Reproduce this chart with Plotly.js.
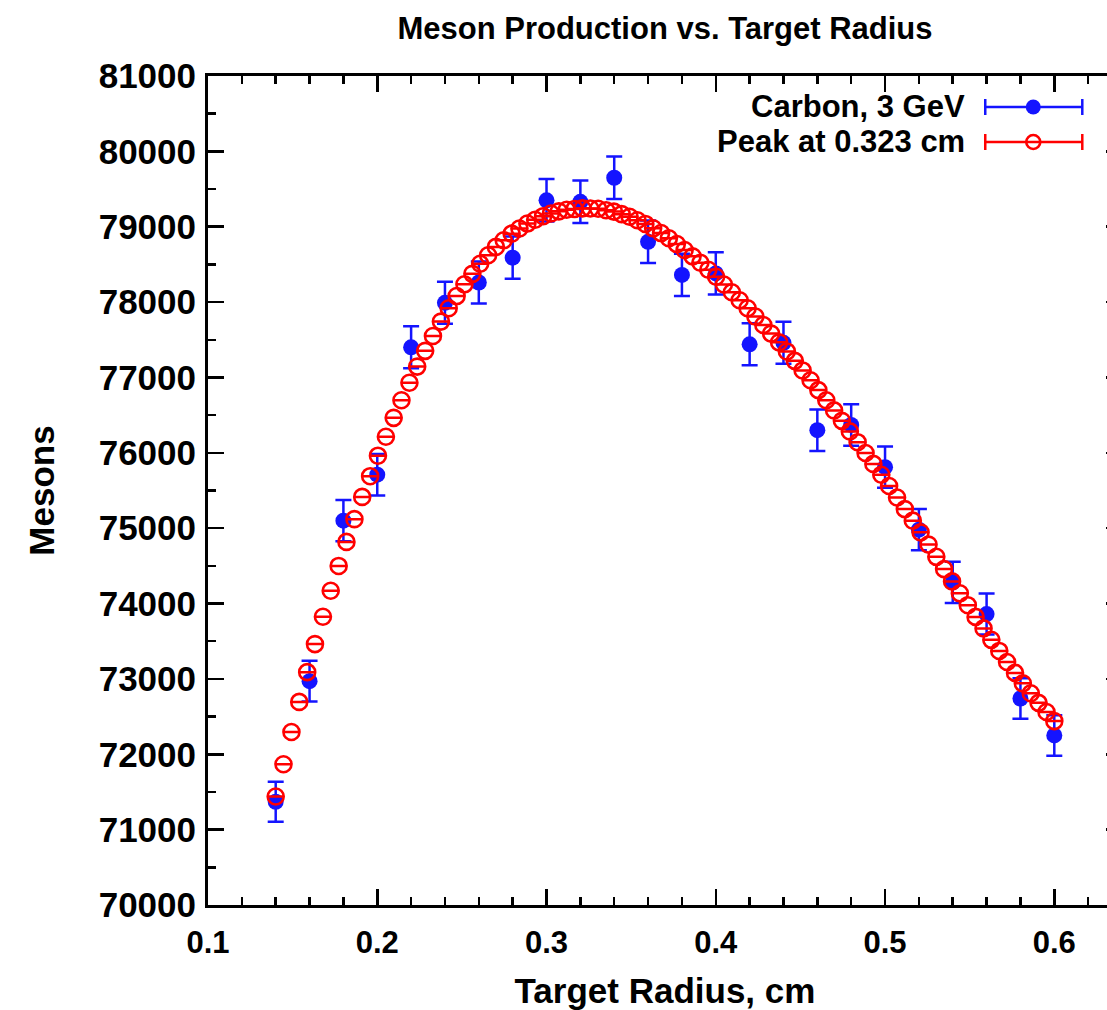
<!DOCTYPE html>
<html>
<head>
<meta charset="utf-8">
<script src="https://cdn.plot.ly/plotly-3.0.1.min.js"></script>
<style>
html, body { margin: 0; padding: 0; overflow: hidden; background: #fff; }
#chart { width: 1140px; height: 1010px; }
</style>
</head>
<body>
<div id="chart"></div>
<script>
// Measured data: Carbon, 3 GeV
const dataX = [0.14, 0.16, 0.18, 0.20, 0.22, 0.24, 0.26, 0.28, 0.30, 0.32, 0.34, 0.36,
               0.38, 0.40, 0.42, 0.44, 0.46, 0.48, 0.50, 0.52, 0.54, 0.56, 0.58, 0.60];
const dataY = [71370, 72970, 75100, 75710, 77400, 77990, 78260, 78590, 79350, 79330, 79650, 78800,
               78360, 78380, 77440, 77460, 76300, 76370, 75810, 74980, 74280, 73860, 72740, 72250];
const dataErr = [267, 270, 274, 275, 278, 279, 280, 280, 282, 282, 282, 281,
                 280, 280, 278, 278, 276, 276, 275, 274, 273, 272, 270, 269];

// Fit curve samples (peak at 0.323 cm)
const fitX = [0.1400, 0.1446, 0.1493, 0.1539, 0.1586, 0.1632, 0.1679, 0.1725, 0.1772, 0.1818,
              0.1865, 0.1911, 0.1958, 0.2004, 0.2051, 0.2097, 0.2143, 0.2190, 0.2236, 0.2283,
              0.2329, 0.2376, 0.2422, 0.2469, 0.2515, 0.2562, 0.2608, 0.2655, 0.2701, 0.2747,
              0.2794, 0.2840, 0.2887, 0.2933, 0.2980, 0.3026, 0.3073, 0.3119, 0.3166, 0.3212,
              0.3259, 0.3305, 0.3352, 0.3398, 0.3444, 0.3491, 0.3537, 0.3584, 0.3630, 0.3677,
              0.3723, 0.3770, 0.3816, 0.3863, 0.3909, 0.3956, 0.4002, 0.4048, 0.4095, 0.4141,
              0.4188, 0.4234, 0.4281, 0.4327, 0.4374, 0.4420, 0.4467, 0.4513, 0.4560, 0.4606,
              0.4653, 0.4699, 0.4745, 0.4792, 0.4838, 0.4885, 0.4931, 0.4978, 0.5024, 0.5071,
              0.5117, 0.5164, 0.5210, 0.5257, 0.5303, 0.5349, 0.5396, 0.5442, 0.5489, 0.5535,
              0.5582, 0.5628, 0.5675, 0.5721, 0.5768, 0.5814, 0.5861, 0.5907, 0.5954, 0.6000];
const fitY = [71440, 71868, 72295, 72695, 73090, 73462, 73825, 74170, 74499, 74818,
              75120, 75415, 75690, 75962, 76213, 76464, 76697, 76930, 77144, 77353,
              77550, 77741, 77918, 78080, 78236, 78375, 78509, 78621, 78732, 78820,
              78908, 78977, 79042, 79093, 79140, 79176, 79204, 79225, 79236, 79244,
              79242, 79238, 79219, 79201, 79167, 79132, 79086, 79037, 78979, 78916,
              78847, 78770, 78691, 78607, 78522, 78429, 78336, 78233, 78131, 78025,
              77918, 77808, 77696, 77582, 77466, 77345, 77220, 77093, 76963, 76832,
              76698, 76563, 76424, 76284, 76141, 75997, 75853, 75709, 75560, 75407,
              75253, 75100, 74945, 74782, 74620, 74457, 74294, 74136, 73978, 73823,
              73670, 73519, 73371, 73224, 73080, 72941, 72810, 72682, 72561, 72440];
const fitErr = fitY.map(() => 0);

const seriesNames = ['Carbon, 3 GeV', 'Peak at 0.323 cm'];
const xTickVals = [0.1, 0.2, 0.3, 0.4, 0.5, 0.6];
const xTickText = ['0.1', '0.2', '0.3', '0.4', '0.5', '0.6'];

const BLUE = 'rgb(20,20,255)';
const RED = 'rgb(255,0,0)';
const FONT = 'Liberation Sans, Arial, Helvetica, sans-serif';

const traces = [
  {
    type: 'scatter', mode: 'markers', name: seriesNames[0],
    x: dataX, y: dataY,
    error_y: { type: 'data', array: dataErr, visible: true, color: BLUE, thickness: 2.5, width: 8 },
    marker: { color: BLUE, size: 16, symbol: 'circle' },
    showlegend: false, cliponaxis: false
  },
  {
    type: 'scatter', mode: 'markers', name: seriesNames[1],
    x: fitX, y: fitY,
    error_y: { type: 'data', array: fitErr, visible: true, color: RED, thickness: 2.5, width: 8 },
    marker: { color: RED, size: 16, symbol: 'circle-open', line: { color: RED, width: 2.6 } },
    showlegend: false, cliponaxis: false
  }
];

// Legend geometry (plot area: 208..1121.7 px wide, 76..905 px tall)
const PW = 913.7, PH = 829;
const px = v => (v - 208) / PW;
const py = v => (905 - v) / PH;
const legRows = [
  { y: 107, color: BLUE, filled: true, label: seriesNames[0] },
  { y: 142, color: RED, filled: false, label: seriesNames[1] }
];
const shapes = [];
const annotations = [];
legRows.forEach(r => {
  const yy = py(r.y);
  shapes.push({ type: 'line', xref: 'paper', yref: 'paper', x0: px(985), x1: px(1082), y0: yy, y1: yy,
                line: { color: r.color, width: 2.5 } });
  [985, 1082].forEach(cx => {
    shapes.push({ type: 'line', xref: 'paper', yref: 'paper', xsizemode: 'pixel', ysizemode: 'pixel',
                  xanchor: px(cx), yanchor: yy, x0: 0, x1: 0, y0: -8, y1: 8,
                  line: { color: r.color, width: 2.5 } });
  });
  if (r.filled) {
    shapes.push({ type: 'circle', xref: 'paper', yref: 'paper', xsizemode: 'pixel', ysizemode: 'pixel',
                  xanchor: px(1033), yanchor: yy, x0: -7.5, x1: 7.5, y0: -7.5, y1: 7.5,
                  fillcolor: r.color, line: { color: r.color, width: 0 } });
  } else {
    shapes.push({ type: 'circle', xref: 'paper', yref: 'paper', xsizemode: 'pixel', ysizemode: 'pixel',
                  xanchor: px(1033), yanchor: yy, x0: -7, x1: 7, y0: -7, y1: 7,
                  fillcolor: 'rgba(0,0,0,0)', line: { color: r.color, width: 2.6 } });
  }
  annotations.push({ xref: 'paper', yref: 'paper', x: px(967), y: yy, xanchor: 'right', yanchor: 'middle',
                     text: '<b>' + r.label + '</b>', showarrow: false, font: { family: FONT, size: 31, color: '#000' } });
});

const layout = {
  width: 1140, height: 1010,
  margin: { l: 208, r: 18.3, t: 76, b: 105, pad: 0 },
  paper_bgcolor: '#fff', plot_bgcolor: '#fff',
  showlegend: false,
  font: { family: FONT, color: '#000' },
  title: { text: '<b>Meson Production vs. Target Radius</b>', font: { family: FONT, size: 31, color: '#000' },
           x: 0.5, xref: 'paper', xanchor: 'center', y: 1 - 28 / 1010, yref: 'container', yanchor: 'middle' },
  xaxis: {
    range: [0.1, 0.64], tickmode: 'array', tickvals: xTickVals, ticktext: xTickText.map(t => '<b>' + t + '</b>'),
    ticks: 'inside', ticklen: 16, tickwidth: 2.5, tickcolor: '#000',
    showline: true, linecolor: '#000', linewidth: 3, mirror: 'ticks',
    showgrid: false, zeroline: false,
    minor: { dtick: 0.02, tick0: 0.1, ticks: 'inside', ticklen: 8, tickwidth: 2.5, tickcolor: '#000', showgrid: false },
    tickfont: { family: FONT, size: 31, color: '#000' },
    ticklabelstandoff: 8,
    title: { text: '<b>Target Radius, cm</b>', font: { family: FONT, size: 35, color: '#000' }, standoff: 22 }
  },
  yaxis: {
    range: [70000, 81000], dtick: 1000, tick0: 70000, tickformat: 'd',
    ticks: 'inside', ticklen: 16, tickwidth: 2.5, tickcolor: '#000',
    showline: true, linecolor: '#000', linewidth: 3, mirror: 'ticks',
    showgrid: false, zeroline: false,
    minor: { dtick: 500, ticks: 'inside', ticklen: 8, tickwidth: 2.5, tickcolor: '#000', showgrid: false },
    tickfont: { family: FONT, size: 35, color: '#000', weight: 'bold' },
    ticklabelstandoff: 2,
    title: { text: '<b>Mesons</b>', font: { family: FONT, size: 35, color: '#000' }, standoff: 34 }
  },
  shapes: shapes,
  annotations: annotations
};

Plotly.newPlot('chart', traces, layout, { displayModeBar: false, staticPlot: true });
</script>
</body>
</html>
